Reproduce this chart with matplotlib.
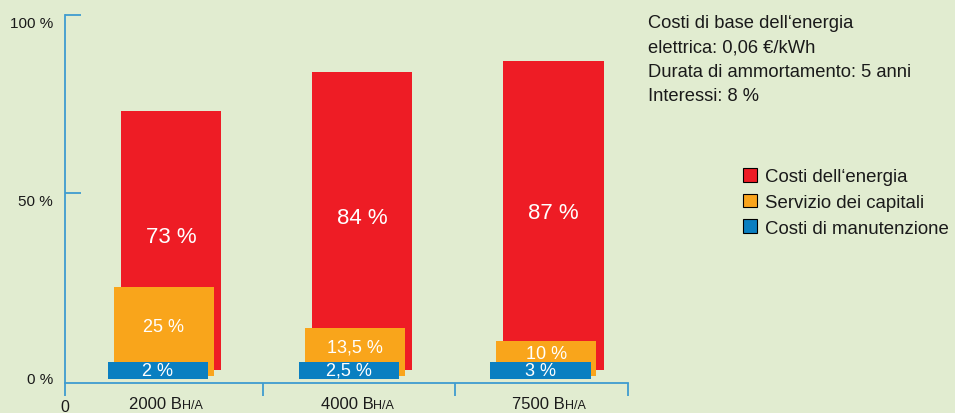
import numpy as np
import matplotlib.pyplot as plt
from matplotlib.patches import Patch
from matplotlib.offsetbox import TextArea, HPacker, AnnotationBbox
from matplotlib.transforms import ScaledTranslation

# data
hours = ["2000", "4000", "7500"]
energy = [73, 84, 87]
capital = [25, 13.5, 10]
maint = [2, 2.5, 3]
series_names = ["Costi dell\u2018energia", "Servizio dei capitali", "Costi di manutenzione"]
note = ("Costi di base dell\u2018energia\n"
        "elettrica: 0,06 \u20ac/kWh\n"
        "Durata di ammortamento: 5 anni\n"
        "Interessi: 8 %")

# colours
bg = "#e1ecd0"
red = "#ee1c25"
orange = "#f9a51b"
blue = "#0a7fc1"
axis_c = "#3f9ccf"
txt_c = "#1a1a1a"

plt.rcParams['font.family'] = ['Liberation Sans', 'DejaVu Sans']


def pct(v):
    return f"{v:g} %".replace(".", ",")


fig = plt.figure(figsize=(9.55, 4.14), dpi=100, facecolor=bg)
ax = fig.add_axes([65 / 955, 30 / 414, 563 / 955, 368 / 414])
ax.set_facecolor(bg)

x = np.arange(len(hours))
bar_w = 0.524
# layered bars, each layer shifted left / down a little
cap_dx, cap_bot = -0.037, -1.7
man_dx, man_bot = -0.068, -2.4
man_h = np.maximum(maint, 4.65)  # band tall enough for the label

ax.bar(x, energy, bar_w, color=red, zorder=1)
ax.bar(x + cap_dx, capital, bar_w, bottom=cap_bot, color=orange, zorder=2)
ax.bar(x + man_dx, man_h, bar_w, bottom=man_bot, color=blue, zorder=3)

man_top = man_bot + man_h
for i in range(len(hours)):
    ax.text(x[i], energy[i] / 2 + 1, pct(energy[i]), color="white", fontsize=16,
            ha="center", va="center", zorder=5)
    cy = (man_top[i] + cap_bot + capital[i]) / 2 - 0.6
    ax.text(x[i] + cap_dx, cy, pct(capital[i]), color="white", fontsize=13,
            ha="center", va="center", zorder=5)
    ax.text(x[i] + man_dx, man_bot + man_h[i] / 2, pct(maint[i]), color="white",
            fontsize=13, ha="center", va="center", zorder=5)

xlo, xhi = -0.554, 2.39
ax.set_xlim(xlo, xhi)
ax.set_ylim(-3.66, 100)

for s in ["top", "right"]:
    ax.spines[s].set_visible(False)
for s in ["left", "bottom"]:
    ax.spines[s].set_color(axis_c)
    ax.spines[s].set_linewidth(1.3)

ax.set_xticks([xlo, 0.481, 1.485, xhi])
ax.set_xticklabels(["0", "", "", ""])
ax.tick_params(axis="x", direction="out", length=9.5, width=1.3, color=axis_c,
               labelsize=11.5, labelcolor=txt_c, pad=2)

ax.set_yticks([0, 50, 100])
ax.set_yticklabels(["0 %", "50 %", "100 %"])
ax.tick_params(axis="y", direction="in", length=11.5, width=1.3, color=axis_c,
               labelsize=11, labelcolor=txt_c, pad=8.6)
ax.yaxis.get_major_ticks()[0].tick1line.set_visible(False)
for lab in ax.get_yticklabels():
    lab.set_transform(lab.get_transform() + ScaledTranslation(0, -0.07, fig.dpi_scale_trans))

# category labels with small-caps "H/A"
for i, h in enumerate(hours):
    box = HPacker(children=[TextArea(h + " B", textprops=dict(fontsize=12, color=txt_c)),
                            TextArea("H/A", textprops=dict(fontsize=9, color=txt_c))],
                  align="baseline", pad=0, sep=0)
    ab = AnnotationBbox(box, (x[i] - 0.025, -0.057), xycoords=ax.get_xaxis_transform(),
                        box_alignment=(0.5, 0.5), frameon=False, pad=0,
                        annotation_clip=False)
    ax.add_artist(ab)

fig.text(648 / 955, 1 - 15 / 414, note, fontsize=13.2, color=txt_c, va="top",
         ha="left", linespacing=1.56)

handles = [Patch(facecolor=c, edgecolor="black", linewidth=0.8) for c in (red, orange, blue)]
fig.legend(handles, series_names, loc="upper left", bbox_to_anchor=(743 / 955, 1 - 169 / 414),
           frameon=False, fontsize=13.4, handlelength=0.75, handleheight=0.75,
           handletextpad=0.45, labelspacing=0.45, borderpad=0, borderaxespad=0,
           labelcolor=txt_c)

fig.savefig("out.png", dpi=100, facecolor=bg)
